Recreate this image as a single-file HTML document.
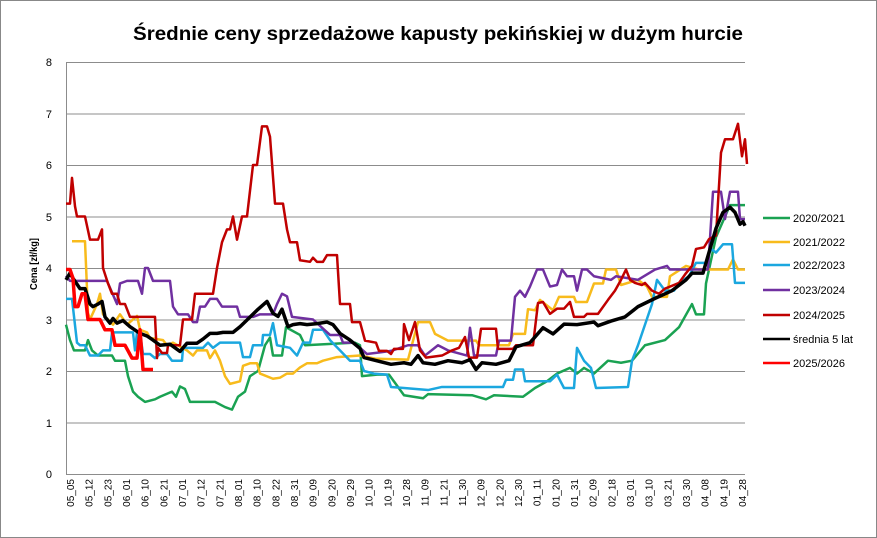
<!DOCTYPE html>
<html><head><meta charset="utf-8"><style>
html,body{margin:0;padding:0;background:#fff}
svg{display:block}
text{font-family:"Liberation Sans",sans-serif}
</style></head><body>
<svg width="877" height="538" viewBox="0 0 877 538" xmlns="http://www.w3.org/2000/svg">
<rect x="0.5" y="0.5" width="876" height="537" fill="#fff" stroke="#888"/>
<text x="133" y="40" font-size="19" font-weight="bold" textLength="610" lengthAdjust="spacingAndGlyphs">Średnie ceny sprzedażowe kapusty pekińskiej w dużym hurcie</text>
<g stroke="#8c8c8c" stroke-width="1">
<line x1="66" y1="62.5" x2="745" y2="62.5"/>
<line x1="66" y1="114" x2="745" y2="114"/>
<line x1="66" y1="165.5" x2="745" y2="165.5"/>
<line x1="66" y1="217" x2="745" y2="217"/>
<line x1="66" y1="268.5" x2="745" y2="268.5"/>
<line x1="66" y1="320" x2="745" y2="320"/>
<line x1="66" y1="371.5" x2="745" y2="371.5"/>
<line x1="66" y1="423" x2="745" y2="423"/>
<line x1="66" y1="474.5" x2="745" y2="474.5"/>
<line x1="66.5" y1="62" x2="66.5" y2="475"/>
</g>
<g font-size="11" text-anchor="end" fill="#000">
<text x="52" y="66">8</text><text x="52" y="118">7</text><text x="52" y="169">6</text><text x="52" y="221">5</text><text x="52" y="272">4</text><text x="52" y="324">3</text><text x="52" y="375">2</text><text x="52" y="427">1</text><text x="52" y="478">0</text>
</g>
<text transform="translate(37,264) rotate(-90)" font-size="10" font-weight="bold" text-anchor="middle" textLength="52" lengthAdjust="spacingAndGlyphs" font-family="Liberation Serif, serif">Cena [zł/kg]</text>
<g font-size="10" text-anchor="end" fill="#000" id="xl"></g>
<g fill="none" stroke-linejoin="round" transform="translate(0,474) scale(1,-51.5)">
<polyline vector-effect="non-scaling-stroke" stroke="#1aa252" stroke-width="2.5" points="66,2.9 70,2.6 74,2.4 85,2.4 88,2.6 92,2.4 98,2.3 112,2.3 115,2.2 125,2.2 128,1.9 133,1.6 138,1.5 145,1.4 155,1.45 160,1.5 172,1.6 176,1.5 180,1.7 185,1.65 190,1.4 215,1.4 225,1.3 232,1.25 238,1.5 245,1.6 250,1.9 258,2.0 265,2.5 270,2.65 273,2.3 282,2.3 286,2.85 300,2.7 305,2.5 355,2.55 360,2.5 362,1.9 377,1.93 389,1.93 404,1.53 423,1.47 428,1.55 472,1.53 486,1.45 494,1.53 523,1.5 535,1.67 547,1.8 557,1.95 570,2.06 577,1.95 584,2.06 594,1.95 608,2.2 621,2.16 632,2.2 645,2.5 665,2.6 679,2.85 692,3.3 696,3.1 704,3.1 706,3.7 716,4.6 730,5.22 745,5.22"/>
<polyline vector-effect="non-scaling-stroke" stroke="#f8bb1c" stroke-width="2.5" points="72,4.52 85,4.52 88,3.13 90,3.0 97,3.3 100,3.5 103,3.1 113,2.9 120,3.1 127,2.9 137,3.07 140,2.8 147,2.75 150,2.64 163,2.6 167,2.5 173,2.55 187,2.4 193,2.3 197,2.4 207,2.4 210,2.25 215,2.4 220,2.2 225,1.9 230,1.75 240,1.8 243,2.1 250,2.15 257,2.15 260,1.95 273,1.85 280,1.87 287,1.95 293,1.95 300,2.07 307,2.15 317,2.15 323,2.2 337,2.27 360,2.3 375,2.24 408,2.22 418,2.95 430,2.95 435,2.72 448,2.59 476,2.59 479,2.5 509,2.5 513,2.72 525,2.72 528,3.2 535,3.18 540,3.38 553,3.18 559,3.44 574,3.44 576,3.34 587,3.34 594,3.7 603,3.7 606,3.97 616,3.97 621,3.67 638,3.77 647,3.64 652,3.44 667,3.44 670,3.84 686,4.04 699,3.97 728,3.97 733,4.17 738,3.97 745,3.97"/>
<polyline vector-effect="non-scaling-stroke" stroke="#1ba7df" stroke-width="2.5" points="66,3.4 72,3.4 77,2.55 80,2.5 85,2.5 90,2.3 98,2.3 103,2.4 110,2.4 112,2.75 133,2.75 135,2.4 137,2.75 140,2.75 143,2.33 150,2.33 155,2.25 160,2.33 167,2.33 172,2.2 182,2.2 183,2.45 203,2.45 208,2.55 213,2.45 220,2.55 240,2.55 243,2.27 250,2.27 253,2.5 262,2.5 263,2.7 270,2.7 273,2.93 277,2.5 290,2.45 297,2.3 303,2.55 310,2.55 313,2.8 323,2.8 330,2.6 340,2.4 350,2.2 360,2.2 364,2.0 374,1.95 387,1.93 391,1.69 404,1.67 428,1.63 442,1.69 503,1.69 506,1.83 513,1.83 515,2.03 523,2.03 525,1.8 550,1.8 557,1.93 564,1.67 574,1.67 577,2.45 584,2.2 591,2.06 596,1.67 628,1.69 632,2.2 638,2.5 645,2.9 652,3.3 657,3.77 665,3.56 674,3.56 679,3.71 689,3.84 696,4.1 706,4.1 711,4.37 716,4.3 723,4.46 732,4.46 735,3.71 745,3.71"/>
<polyline vector-effect="non-scaling-stroke" stroke="#7030a0" stroke-width="2.5" points="66,3.85 70,3.75 107,3.75 117,3.3 120,3.7 127,3.75 138,3.75 142,3.5 145,4.0 148,4.0 153,3.75 170,3.75 173,3.25 178,3.1 188,3.1 193,2.95 197,2.95 200,3.25 205,3.25 210,3.4 217,3.4 222,3.25 237,3.25 240,3.05 253,3.05 260,3.1 273,3.1 277,3.3 282,3.5 287,3.45 292,3.05 313,3.0 330,2.7 340,2.7 343,2.55 353,2.55 360,2.45 367,2.33 391,2.39 408,2.5 418,2.5 425,2.3 438,2.5 448,2.4 467,2.3 470,2.84 474,2.3 496,2.3 499,2.59 511,2.59 515,3.44 520,3.56 525,3.44 530,3.64 537,3.97 543,3.97 550,3.64 557,3.67 562,3.97 567,3.84 574,3.84 577,3.56 582,3.97 587,3.97 594,3.84 611,3.77 616,3.84 638,3.77 655,3.97 667,4.04 670,3.97 708,3.97 713,5.48 721,5.48 725,4.95 730,5.48 738,5.48 740,4.95 745,4.95"/>
<polyline vector-effect="non-scaling-stroke" stroke="#c00000" stroke-width="2.5" points="66,5.25 70,5.25 72,5.75 75,5.2 77,5.0 85,5.0 90,4.55 98,4.55 102,4.75 103,4.0 108,3.7 112,3.5 117,3.5 120,3.3 125,3.3 130,3.05 155,3.05 157,2.25 158,2.45 162,2.35 167,2.35 168,2.5 180,2.5 183,3.0 192,3.0 195,3.5 213,3.5 217,4.0 222,4.5 227,4.75 230,4.75 233,5.0 237,4.55 242,5.0 247,5.0 250,5.5 253,6.0 257,6.0 262,6.75 267,6.75 270,6.55 275,5.25 283,5.25 287,4.75 290,4.5 297,4.5 300,4.15 310,4.12 313,4.2 317,4.12 323,4.12 327,4.25 337,4.25 340,3.3 350,3.3 352,2.95 360,2.95 365,2.59 376,2.55 379,2.39 387,2.39 391,2.33 394,2.43 403,2.43 404,2.91 409,2.6 415,2.95 420,2.4 426,2.26 442,2.3 452,2.4 459,2.45 465,2.66 469,2.26 477,2.26 481,2.82 496,2.82 498,2.43 513,2.43 516,2.5 533,2.5 538,3.32 543,3.34 550,3.11 557,3.21 564,3.21 570,3.34 574,3.05 584,3.05 587,3.11 598,3.11 608,3.38 615,3.56 621,3.77 626,3.97 630,3.77 635,3.71 642,3.67 645,3.71 652,3.56 659,3.5 665,3.6 679,3.71 686,3.9 692,4.04 696,4.37 704,4.4 709,4.56 716,4.63 721,6.24 725,6.5 733,6.5 738,6.8 742,6.17 745,6.5 747,6.02"/>
<polyline vector-effect="non-scaling-stroke" stroke="#000" stroke-width="3.5" points="66,3.77 70,3.9 73,3.8 80,3.6 85,3.6 90,3.3 93,3.25 98,3.3 102,3.35 105,3.05 110,2.93 113,3.02 117,2.93 123,2.98 130,2.86 140,2.73 147,2.68 153,2.6 160,2.5 170,2.52 180,2.38 187,2.54 197,2.54 203,2.62 210,2.73 217,2.73 223,2.75 233,2.75 240,2.86 247,2.99 257,3.18 267,3.35 273,3.12 278,3.06 282,3.2 288,2.86 293,2.9 300,2.92 307,2.9 317,2.92 327,2.95 333,2.9 340,2.73 350,2.6 360,2.44 364,2.26 391,2.13 404,2.16 411,2.13 418,2.3 423,2.16 435,2.13 448,2.2 462,2.16 470,2.22 476,2.03 482,2.16 496,2.13 509,2.2 516,2.47 530,2.55 543,2.84 553,2.72 564,2.91 577,2.9 594,2.95 598,2.88 611,2.97 625,3.05 638,3.25 655,3.41 672,3.56 686,3.77 692,3.9 703,3.9 710,4.37 716,4.77 723,5.08 730,5.18 735,5.08 740,4.85 743,4.9 745,4.82"/>
<polyline vector-effect="non-scaling-stroke" stroke="#ff0000" stroke-width="3.5" points="66,3.97 70,3.97 73,3.8 75,3.25 78,3.25 82,3.5 85,3.5 88,3.0 100,3.0 105,2.8 112,2.8 115,2.5 125,2.5 132,2.25 137,2.25 140,2.8 143,2.03 153,2.03"/>
</g>
<g stroke-width="2.5">
<line x1="763" y1="218" x2="790" y2="218" stroke="#1aa252"/>
<line x1="763" y1="242" x2="790" y2="242" stroke="#f8bb1c"/>
<line x1="763" y1="265" x2="790" y2="265" stroke="#1ba7df"/>
<line x1="763" y1="290" x2="790" y2="290" stroke="#7030a0"/>
<line x1="763" y1="315" x2="790" y2="315" stroke="#c00000"/>
<line x1="763" y1="339" x2="790" y2="339" stroke="#000"/>
<line x1="763" y1="363" x2="790" y2="363" stroke="#ff0000"/>
</g>
<g font-size="11" fill="#000">
<text x="793" y="222">2020/2021</text>
<text x="793" y="246">2021/2022</text>
<text x="793" y="269">2022/2023</text>
<text x="793" y="294">2023/2024</text>
<text x="793" y="319">2024/2025</text>
<text x="793" y="343">średnia 5 lat</text>
<text x="793" y="367">2025/2026</text>
</g>
<g font-size="10" text-anchor="end" fill="#000">
<text transform="translate(74,479) rotate(-90)">05_05</text>
<text transform="translate(92.7,479) rotate(-90)">05_12</text>
<text transform="translate(111.3,479) rotate(-90)">05_23</text>
<text transform="translate(130,479) rotate(-90)">06_01</text>
<text transform="translate(148.7,479) rotate(-90)">06_10</text>
<text transform="translate(167.3,479) rotate(-90)">06_21</text>
<text transform="translate(186,479) rotate(-90)">07_01</text>
<text transform="translate(204.7,479) rotate(-90)">07_12</text>
<text transform="translate(223.3,479) rotate(-90)">07_21</text>
<text transform="translate(242,479) rotate(-90)">08_01</text>
<text transform="translate(260.7,479) rotate(-90)">08_10</text>
<text transform="translate(279.3,479) rotate(-90)">08_22</text>
<text transform="translate(298,479) rotate(-90)">08_31</text>
<text transform="translate(316.7,479) rotate(-90)">09_09</text>
<text transform="translate(335.3,479) rotate(-90)">09_20</text>
<text transform="translate(354,479) rotate(-90)">09_29</text>
<text transform="translate(372.7,479) rotate(-90)">10_10</text>
<text transform="translate(391.3,479) rotate(-90)">10_19</text>
<text transform="translate(410,479) rotate(-90)">10_28</text>
<text transform="translate(428.7,479) rotate(-90)">11_09</text>
<text transform="translate(447.3,479) rotate(-90)">11_21</text>
<text transform="translate(466,479) rotate(-90)">11_30</text>
<text transform="translate(484.7,479) rotate(-90)">12_09</text>
<text transform="translate(503.3,479) rotate(-90)">12_20</text>
<text transform="translate(522,479) rotate(-90)">12_30</text>
<text transform="translate(540.7,479) rotate(-90)">01_11</text>
<text transform="translate(559.3,479) rotate(-90)">01_20</text>
<text transform="translate(578,479) rotate(-90)">01_31</text>
<text transform="translate(596.7,479) rotate(-90)">02_09</text>
<text transform="translate(615.3,479) rotate(-90)">02_18</text>
<text transform="translate(634,479) rotate(-90)">03_01</text>
<text transform="translate(652.7,479) rotate(-90)">03_10</text>
<text transform="translate(671.3,479) rotate(-90)">03_21</text>
<text transform="translate(690,479) rotate(-90)">03_30</text>
<text transform="translate(708.7,479) rotate(-90)">04_08</text>
<text transform="translate(727.3,479) rotate(-90)">04_19</text>
<text transform="translate(746,479) rotate(-90)">04_28</text>
</g>
</svg>
</body></html>
